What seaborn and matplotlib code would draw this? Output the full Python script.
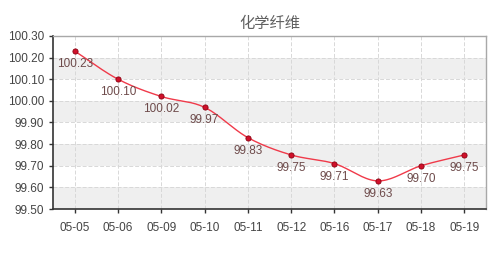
import numpy as np
import pandas as pd
import matplotlib
matplotlib.use("Agg")
import matplotlib.pyplot as plt
import seaborn as sns

dates = ["05-05", "05-06", "05-09", "05-10", "05-11", "05-12", "05-16", "05-17", "05-18", "05-19"]
values = [100.23, 100.10, 100.02, 99.97, 99.83, 99.75, 99.71, 99.63, 99.70, 99.75]
title = "化学纤维"
yticks = [99.50, 99.60, 99.70, 99.80, 99.90, 100.00, 100.10, 100.20, 100.30]

sns.set_style("white")
plt.rcParams['font.family'] = ['Liberation Sans', 'Noto Sans CJK SC', 'DejaVu Sans']

df = pd.DataFrame({"date": dates, "value": values, "pos": np.arange(len(dates))})

fig = plt.figure(figsize=(5, 2.6), dpi=100)
ax = fig.add_axes([0.106, 0.196, 0.866, 0.666])

# alternating bands
for i in range(len(yticks) - 1):
    if i % 2 == 0:
        ax.axhspan(yticks[i], yticks[i + 1], color="#efefef", zorder=0, lw=0)

# smooth curve (Catmull-Rom through data points)
x = df["pos"].to_numpy(float)
y = df["value"].to_numpy(float)
px = np.concatenate([[2 * x[0] - x[1]], x, [2 * x[-1] - x[-2]]])
py = np.concatenate([[2 * y[0] - y[1]], y, [2 * y[-1] - y[-2]]])
sx, sy = [], []
t = np.linspace(0, 1, 20)
for i in range(1, len(px) - 2):
    for arr, out in ((px, sx), (py, sy)):
        p0, p1, p2, p3 = arr[i - 1], arr[i], arr[i + 1], arr[i + 2]
        out.extend(0.5 * ((2 * p1) + (-p0 + p2) * t + (2 * p0 - 5 * p1 + 4 * p2 - p3) * t ** 2
                          + (-p0 + 3 * p1 - 3 * p2 + p3) * t ** 3))
smooth = pd.DataFrame({"x": sx, "y": sy})
sns.lineplot(data=smooth, x="x", y="y", ax=ax, color="#f03a4a", lw=1.0, sort=False, zorder=3)
sns.scatterplot(data=df, x="pos", y="value", ax=ax, color="#d0102a", edgecolor="#8a0010",
                s=14, linewidth=0.6, zorder=4)

for xi, yi in zip(df["pos"], df["value"]):
    ax.annotate(f"{yi:.2f}", (xi, yi), xytext=(0, -5), textcoords="offset points",
                ha="center", va="top", fontsize=8.5, color="#6e4b4b", zorder=5)

ax.set_xlim(-0.5, len(dates) - 0.5)
ax.set_ylim(yticks[0], yticks[-1])
ax.set_xticks(df["pos"])
ax.set_xticklabels(dates)
ax.set_yticks(yticks)
ax.set_yticklabels([f"{v:.2f}" for v in yticks])
ax.set_xlabel("")
ax.set_ylabel("")
ax.tick_params(axis="both", labelsize=8.5, labelcolor="#444444", length=3, width=1,
               color="#333333", direction="out", left=True, bottom=True)
ax.tick_params(axis="x", pad=6)
ax.grid(True, color="#d8d8d8", ls=(0, (4, 2)), lw=0.7, zorder=1)
ax.set_axisbelow(True)

for s in ["left", "bottom"]:
    ax.spines[s].set_color("#333333")
    ax.spines[s].set_linewidth(1.2)
for s in ["top", "right"]:
    ax.spines[s].set_color("#a8a8a8")
    ax.spines[s].set_linewidth(1.0)

ax.set_title(title, fontsize=11, color="#606060", pad=6,
             family=['Noto Sans CJK SC', 'DejaVu Sans'])

fig.savefig("out.png", dpi=100)
